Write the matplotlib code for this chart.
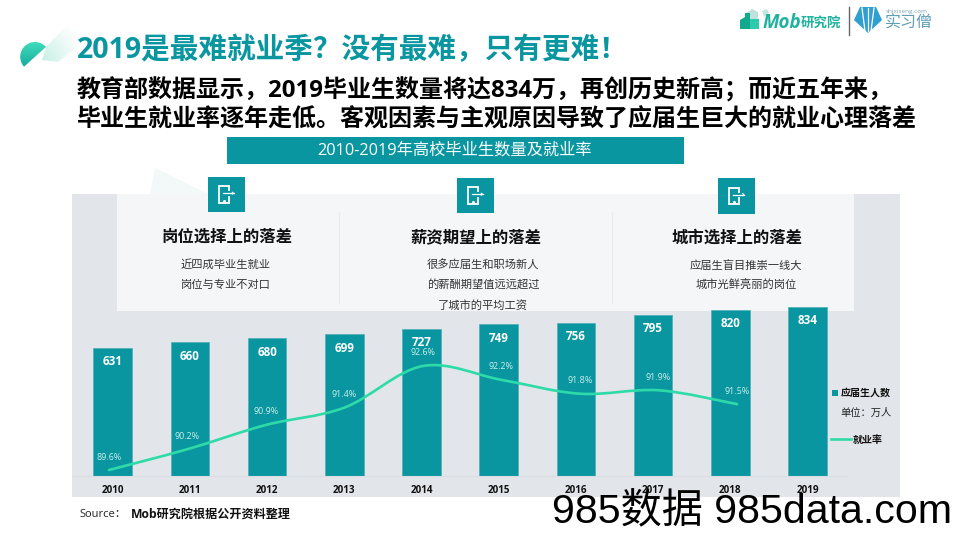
import numpy as np
import matplotlib
matplotlib.use('Agg')
import matplotlib.pyplot as plt
from matplotlib.patches import Rectangle, Polygon, Wedge
from matplotlib.path import Path
from matplotlib.patches import PathPatch

FONT = ['Open Sans', 'Noto Sans CJK SC', 'DejaVu Sans']
plt.rcParams['font.family'] = FONT

years = ['2010', '2011', '2012', '2013', '2014', '2015', '2016', '2017', '2018', '2019']
graduates = [631, 660, 680, 699, 727, 749, 756, 795, 820, 834]
rates = [89.6, 90.2, 90.9, 91.4, 92.6, 92.2, 91.8, 91.9, 91.5]
title = '2019是最难就业季\uff1f没有最难\uff0c只有更难\uff01'
body_lines = ['教育部数据显示\uff0c2019毕业生数量将达834万\uff0c再创历史新高\uff1b而近五年来\uff0c',
              '毕业生就业率逐年走低。客观因素与主观原因导致了应届生巨大的就业心理落差']
banner = '2010-2019年高校毕业生数量及就业率'
card_titles = ['岗位选择上的落差', '薪资期望上的落差', '城市选择上的落差']
card_bodies = [['近四成毕业生就业', '岗位与专业不对口'],
               ['很多应届生和职场新人', '的薪酬期望值远远超过', '了城市的平均工资'],
               ['应届生盲目推崇一线大', '城市光鲜亮丽的岗位']]

TEAL = '#0A96A0'
LINE = '#2EDBA8'
W, H = 960, 540
fig = plt.figure(figsize=(W / 100, H / 100), dpi=100, facecolor='white')

bg = fig.add_axes([0, 0, 1, 1], zorder=0)
bg.set_xlim(0, W)
bg.set_ylim(H, 0)
bg.axis('off')


def T(x, y, s, size, color='black', weight='normal', ha='left', va='center', ax=bg, **kw):
    return ax.text(x, y, s, fontsize=size, color=color, fontweight=weight, ha=ha, va=va, **kw)


# top-left ornament
grad = np.linspace(0, 1, 64).reshape(-1, 1)
img = np.zeros((64, 1, 3))
c0, c1 = np.array([0x4A, 0xE8, 0xC0]) / 255, np.array([0x12, 0xA5, 0x9C]) / 255
img[:] = c0 + (c1 - c0) * grad[:, :, None]
im = bg.imshow(img, extent=(15, 50, 70, 36), aspect='auto', zorder=1)
im.set_clip_path(Wedge((35, 56.8), 14.8, 138, 318, transform=bg.transData))
yy, xx = np.mgrid[0:1:80j, 0:1:80j]
fade = np.zeros((80, 80, 4))
fade[..., :3] = np.array([0xB4, 0xEA, 0xDC]) / 255
fade[..., 3] = np.clip(0.75 - 0.8 * np.hypot(xx * 0.9, (1 - yy) * 0.9), 0, 0.7)
im2 = bg.imshow(fade, extent=(42, 82, 62, 15), aspect='auto', zorder=1)
im2.set_clip_path(Polygon([(46, 47), (75, 17), (82, 20), (80, 45), (58, 62), (42, 60)],
                          transform=bg.transData))
bg.set_xlim(0, W)
bg.set_ylim(H, 0)

# logos
bg.add_patch(Polygon([(746, 13), (752, 9), (758, 12), (758, 29), (746, 29)], fc='#BFE3DC', ec='none'))
bg.add_patch(Polygon([(740, 29), (740, 20), (745, 17), (745, 13), (750, 13), (750, 29)], fc='#12A98F', ec='none'))
bg.add_patch(Polygon([(750, 29), (750, 19), (759, 19), (759, 29)], fc='#2CCBAA', ec='none'))
bg.add_patch(Polygon([(762, 11), (767, 9), (769, 13), (764, 17)], fc='#C5E5DF', ec='none'))
T(763, 22.5, 'Mob', 13.5, '#1FB39E', 'bold', style='italic')
T(801, 23.5, '研究院', 9.7, '#1FB39E', 'bold')
bg.plot([848.5, 848.5], [7, 35], color='#666666', lw=1)
bg.add_patch(Polygon([(860, 7), (876, 7), (882, 20), (868, 33), (854, 20)], fc='#2F9FD2', ec='none'))
for xa, xb in [(862, 865), (874, 871), (868, 868)]:
    bg.plot([xa, xb], [8, 31], color='white', lw=0.9)
T(886, 11, 'shixiseng.com', 4.6, '#7FA6B8')
T(885, 24, '实习僧', 11.5, '#5F9DB8')

# headings
T(77, 50.5, title, 20.6, TEAL, 'bold')
T(77, 90.5, body_lines[0], 17.3, 'black', 'bold')
T(77, 120.5, body_lines[1], 17.3, 'black', 'bold')
bg.add_patch(Rectangle((227, 137), 456.5, 26.5, fc=TEAL, ec='none'))
T(455, 150.5, banner, 11.7, 'white', ha='center')

# grey panel, pale triangle, white card
bg.add_patch(Polygon([(155, 168), (208, 194), (150, 194)], fc='#F3F8F8', ec='none'))
bg.add_patch(Rectangle((72, 194), 827.7, 303, fc='#E2E5EA', ec='none'))
bg.add_patch(Rectangle((116.7, 194), 737.3, 117, fc='#F4F6F8', ec='none'))
for sx in (338.5, 611.5):
    bg.plot([sx, sx], [212, 303], color='#E8EBEE', lw=0.9)

# icons
for bx, by in [(208, 176.7), (457, 177.7), (718.3, 178)]:
    bg.add_patch(Rectangle((bx, by), 36.7, 35.5, fc=TEAL, ec='none', zorder=3))
    ix, iy = bx + 10.7, by + 9.5
    bg.add_patch(Rectangle((ix, iy), 10, 16.5, fc='none', ec='white', lw=1.3, zorder=4))
    bg.add_patch(Rectangle((ix + 5, iy + 5), 6, 4.5, fc=TEAL, ec='none', zorder=4))
    bg.plot([ix + 4, ix + 15], [iy + 7, iy + 7], color='white', lw=0.9, zorder=5)
    bg.plot([ix + 13.5, ix + 15, ix + 13.5], [iy + 6, iy + 7, iy + 8], color='white', lw=0.7, zorder=5)
    bg.plot([ix + 5], [iy + 14.5], marker='o', ms=1.2, color='white', zorder=5)

# card text
title_pos = [(226.5, 238), (475.7, 238.7), (737, 239)]
body_pos = [(226, [265.5, 285]), (483, [266, 285.5, 306.5]), (746, [267.5, 286.5])]
for (tx, ty), s in zip(title_pos, card_titles):
    T(tx, ty, s, 11.8, '#111111', 'bold', ha='center')
for (bx, ys), lines in zip(body_pos, card_bodies):
    for y_, s in zip(ys, lines):
        T(bx, y_, s, 8.1, '#333333', ha='center')

# bars
L, R, TOP, BOT = 72, 847, 296, 476
rect = [L / W, 1 - BOT / H, (R - L) / W, (BOT - TOP) / H]
ax = fig.add_axes(rect, zorder=1, facecolor='none')
x = np.arange(len(years))
ax.bar(x, graduates, width=0.5, color=TEAL, edgecolor='#4FB0B6', linewidth=0.5)
ax.set_xlim((L - 112.7) / 77.2, (R - 112.7) / 77.2)
ax.set_ylim(0, (BOT - TOP) / 0.2025)
for s in ('top', 'left', 'right'):
    ax.spines[s].set_visible(False)
ax.spines['bottom'].set_color('#D9DCE0')
ax.spines['bottom'].set_linewidth(0.8)
ax.set_yticks([])
ax.set_xticks(x, years, fontsize=7.1, fontweight='bold', color='#111111')
ax.tick_params(axis='x', length=0, pad=6.5)
for xi, v in zip(x, graduates):
    ax.annotate(str(v), (xi, v), xytext=(0, -13.7 * 0.72), textcoords='offset points',
                ha='center', va='center', color='white', fontsize=8.4, fontweight='bold',
                clip_on=False)

# employment-rate line on its own scale
ax2 = fig.add_axes(rect, zorder=2, facecolor='none')
ax2.axis('off')
ax2.set_xlim((L - 109) / 78.5, (R - 109) / 78.5)
ax2.set_ylim(89.6 - 6 / 34.67, 89.6 + 174 / 34.67)
px = np.arange(len(rates), dtype=float)
py = np.array(rates)
verts, codes = [(px[0], py[0])], [Path.MOVETO]
for i in range(len(px) - 1):
    a = max(i - 1, 0)
    b = min(i + 2, len(px) - 1)
    verts += [(px[i] + (px[i + 1] - px[a]) / 6, py[i] + (py[i + 1] - py[a]) / 6),
              (px[i + 1] - (px[b] - px[i]) / 6, py[i + 1] - (py[b] - py[i]) / 6),
              (px[i + 1], py[i + 1])]
    codes += [Path.CURVE4] * 3
ax2.add_patch(PathPatch(Path(verts, codes), fc='none', ec=LINE, lw=1.9, capstyle='round'))
for xi, v in zip(px, rates):
    ax2.annotate(f'{v}%', (xi, v), xytext=(0, 13 * 0.72), textcoords='offset points',
                 ha='center', va='center', color='#C8EEE8', fontsize=6.4, fontweight='medium')

# legend
fg = fig.add_axes([0, 0, 1, 1], zorder=5, facecolor='none')
fg.set_xlim(0, W)
fg.set_ylim(H, 0)
fg.axis('off')
fg.add_patch(Rectangle((832, 389.5), 6, 6, fc=TEAL, ec='none'))
T(841, 393.5, '应届生人数', 7.2, '#111111', 'bold', ax=fg)
T(840, 413.5, '单位\uff1a万人', 7.4, '#222222', ax=fg)
fg.plot([830.5, 851], [439, 439], color=LINE, lw=1.9)
T(853, 440, '就业率', 7.2, '#111111', 'bold', ax=fg)

# source and watermark
T(79.5, 514.5, 'Source\uff1a', 8, '#222222', ax=fg)
T(131, 514.5, 'Mob研究院根据公开资料整理', 8.7, '#111111', 'bold', ax=fg)
fg.text(551.5, 512, '985数据 985data.com', fontsize=29.6, color='black', ha='left', va='center',
        family=['Liberation Sans', 'Noto Sans CJK SC'])

fig.savefig('out.png', dpi=100)
